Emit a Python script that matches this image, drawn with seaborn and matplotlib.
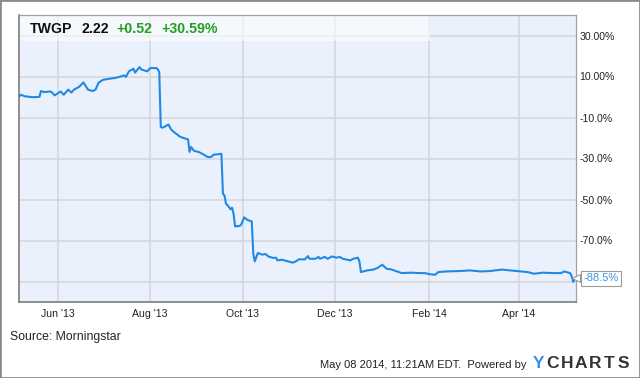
import matplotlib
matplotlib.use("Agg")
import matplotlib.pyplot as plt
import matplotlib.dates as mdates
from matplotlib.patches import Rectangle
import matplotlib.transforms as mtransforms
import pandas as pd
import seaborn as sns

# ---------------- data ----------------
dates = [
    "2013-05-06", "2013-05-08", "2013-05-10", "2013-05-13", "2013-05-16", "2013-05-20",
    "2013-05-21", "2013-05-23", "2013-05-27", "2013-05-28", "2013-05-30", "2013-06-03",
    "2013-06-05", "2013-06-08", "2013-06-10", "2013-06-12", "2013-06-15", "2013-06-18",
    "2013-06-21", "2013-06-24", "2013-06-26", "2013-06-28", "2013-07-01", "2013-07-05",
    "2013-07-09", "2013-07-12", "2013-07-15", "2013-07-16", "2013-07-18", "2013-07-21",
    "2013-07-22", "2013-07-25", "2013-07-26", "2013-07-30", "2013-08-01", "2013-08-05",
    "2013-08-06", "2013-08-07", "2013-08-08", "2013-08-09", "2013-08-11", "2013-08-13",
    "2013-08-15", "2013-08-17", "2013-08-19", "2013-08-21", "2013-08-23", "2013-08-26",
    "2013-08-27", "2013-08-28", "2013-08-30", "2013-09-02", "2013-09-05", "2013-09-08",
    "2013-09-10", "2013-09-12", "2013-09-14", "2013-09-17", "2013-09-18", "2013-09-19",
    "2013-09-20", "2013-09-22", "2013-09-23", "2013-09-24", "2013-09-25", "2013-09-26",
    "2013-09-29", "2013-09-30", "2013-10-02", "2013-10-04", "2013-10-07", "2013-10-08",
    "2013-10-09", "2013-10-11", "2013-10-14", "2013-10-16", "2013-10-18", "2013-10-21",
    "2013-10-23", "2013-10-24", "2013-10-27", "2013-10-31", "2013-11-03", "2013-11-05",
    "2013-11-07", "2013-11-11", "2013-11-13", "2013-11-14", "2013-11-18", "2013-11-20",
    "2013-11-21", "2013-11-24", "2013-11-26", "2013-11-29", "2013-12-02", "2013-12-04",
    "2013-12-06", "2013-12-09", "2013-12-11", "2013-12-13", "2013-12-16", "2013-12-17",
    "2013-12-18", "2013-12-22", "2013-12-26", "2013-12-29", "2014-01-01", "2014-01-04",
    "2014-01-07", "2014-01-10", "2014-01-14", "2014-01-20", "2014-01-26", "2014-01-29",
    "2014-02-02", "2014-02-05", "2014-02-07", "2014-02-12", "2014-02-21", "2014-02-28",
    "2014-03-07", "2014-03-13", "2014-03-21", "2014-03-31", "2014-04-07", "2014-04-11",
    "2014-04-17", "2014-04-24", "2014-04-29", "2014-05-01", "2014-05-05", "2014-05-06",
    "2014-05-07", "2014-05-08",
]
pct_change = [
    0.0, 1.1, 0.4, 0.1, -0.1, 0.1,
    2.9, 2.4, 2.7, 2.4, 0.8, 2.7,
    1.1, 3.6, 2.2, 3.7, 4.9, 7.1,
    3.6, 2.9, 3.6, 7.0, 8.4, 8.9,
    9.3, 9.9, 10.5, 9.8, 12.5, 13.8,
    11.9, 14.6, 13.5, 12.5, 14.1, 14.1,
    13.5, 12.2, -14.6, -15.0, -14.3, -13.4,
    -16.0, -17.3, -18.4, -19.5, -20.0, -20.7,
    -26.8, -24.4, -26.3, -26.8, -28.0, -29.3,
    -29.3, -28.1, -28.0, -27.7, -47.2, -48.0,
    -52.0, -53.7, -54.8, -54.0, -56.9, -63.1,
    -62.9, -62.3, -58.7, -59.9, -60.7, -76.4,
    -80.2, -76.1, -76.9, -76.6, -77.8, -78.5,
    -78.4, -79.7, -79.4, -80.2, -80.8, -80.2,
    -79.2, -79.2, -77.6, -78.9, -78.9, -78.0,
    -78.9, -78.0, -78.9, -77.8, -78.4, -78.0,
    -78.9, -79.4, -79.7, -78.9, -78.4, -80.2,
    -85.4, -84.6, -84.2, -83.4, -81.8, -83.8,
    -84.1, -84.9, -85.9, -85.7, -85.9, -85.9,
    -86.5, -86.7, -85.4, -85.1, -84.9, -84.6,
    -85.1, -84.9, -84.2, -84.9, -85.4, -86.2,
    -85.7, -85.9, -85.9, -85.1, -85.9, -87.5,
    -90.2, -88.5,
]
xtick_dates = ["2013-06-01", "2013-08-01", "2013-10-01", "2013-12-01", "2014-02-01", "2014-04-01"]
xtick_labels = ["Jun '13", "Aug '13", "Oct '13", "Dec '13", "Feb '14", "Apr '14"]
ytick_values = [30, 10, -10, -30, -50, -70, -90]
ytick_labels = ["30.00%", "10.00%", "-10.0%", "-30.0%", "-50.0%", "-70.0%", ""]
last_value = -88.5
last_label = "-88.5%"
ticker = "TWGP"
price = "2.22"
change = "+0.52"
change_pct = "+30.59%"

# ---------------- style ----------------
sns.set_style("white")
plt.rcParams["font.family"] = ["Liberation Sans", "DejaVu Sans"]

LINE = "#2089e6"
GREEN = "#22a022"

df = pd.DataFrame({"date": pd.to_datetime(dates), "pct": pct_change})

fig = plt.figure(figsize=(6.4, 3.78), dpi=100)
fig.patch.set_facecolor("white")
W, H = 640.0, 378.0
ax = fig.add_axes([19 / W, 1 - 302 / H, (575.5 - 19) / W, (302 - 15) / H])
ax.set_facecolor("#eaf1fc")

sns.lineplot(data=df, x="date", y="pct", ax=ax, color=LINE, linewidth=1.5, zorder=3)

ax.set_xlim(pd.Timestamp("2013-05-06 12:00"), pd.Timestamp("2014-05-08 12:00"))
ax.set_ylim(-100, 40)
ax.set_xlabel("")
ax.set_ylabel("")

ax.set_xticks(pd.to_datetime(xtick_dates))
ax.set_xticklabels(xtick_labels, fontsize=7.6, color="#222222")
ax.yaxis.tick_right()
ax.set_yticks(ytick_values)
ax.set_yticklabels(ytick_labels, fontsize=7.6, color="#222222")
ax.tick_params(axis="both", length=0)
ax.tick_params(axis="x", pad=5)
ax.tick_params(axis="y", pad=3)

ax.grid(True, color="#d3d6db", linewidth=1.1, zorder=0)
ax.set_axisbelow(True)

for side in ["left", "bottom"]:
    ax.spines[side].set_color("#7d7d7d")
    ax.spines[side].set_linewidth(1.2)
for side in ["top", "right"]:
    ax.spines[side].set_color("#a0a0a0")
    ax.spines[side].set_linewidth(0.9)

# header band (lighter box behind the title)
ax.add_patch(Rectangle((0, (302 - 41) / (302 - 15)), (430 - 19) / (575.5 - 19),
                       1 - (302 - 41) / (302 - 15), transform=ax.transAxes,
                       facecolor="white", alpha=0.55, edgecolor="none", zorder=2))

# last value label
trans = mtransforms.blended_transform_factory(ax.transAxes, ax.transData)
ax.plot([1.0], [last_value], transform=trans, marker="<", markersize=6,
        markerfacecolor="white", markeredgecolor="#9a9a9a", markeredgewidth=0.8,
        clip_on=False, zorder=5)
ax.text(1.0 + 8 / (575.5 - 19), last_value, last_label, transform=trans,
        fontsize=8, color="#3a95e8", va="center", ha="left", zorder=6,
        bbox=dict(boxstyle="square,pad=0.2", facecolor="white", edgecolor="#9a9a9a",
                  linewidth=0.8))

# header text
hy = 1 - 33.3 / H
fig.text(30 / W, hy, ticker, fontsize=10.2, fontweight="bold", color="#111111", va="baseline")
fig.text(81.7 / W, hy, price, fontsize=10.2, fontweight="bold", color="#111111", va="baseline")
fig.text(116.7 / W, hy, change, fontsize=10.2, fontweight="bold", color=GREEN, va="baseline")
fig.text(161.3 / W, hy, change_pct, fontsize=10.2, fontweight="bold", color=GREEN, va="baseline")

# footer text
fig.text(10 / W, 1 - 337 / H, "Source: Morningstar", fontsize=8.8, color="#222222", va="center")
fig.text(526 / W, 1 - 365 / H, "May 08 2014, 11:21AM EDT.  Powered by", fontsize=8,
         color="#222222", va="center", ha="right")
logo = "YCHARTS"
for i, ch in enumerate(logo):
    fig.text((538.5 + 14.1 * i) / W, 1 - 364 / H, ch, fontsize=12.5, fontweight="bold",
             color="#3d8fe0" if i == 0 else "#333333", va="center", ha="center")

# outer border
fig.patches.append(Rectangle((0, 0), 1, 1, transform=fig.transFigure, fill=False,
                             edgecolor="#8c8c8c", linewidth=2.0))

fig.savefig("out.png", dpi=100, facecolor="white")
